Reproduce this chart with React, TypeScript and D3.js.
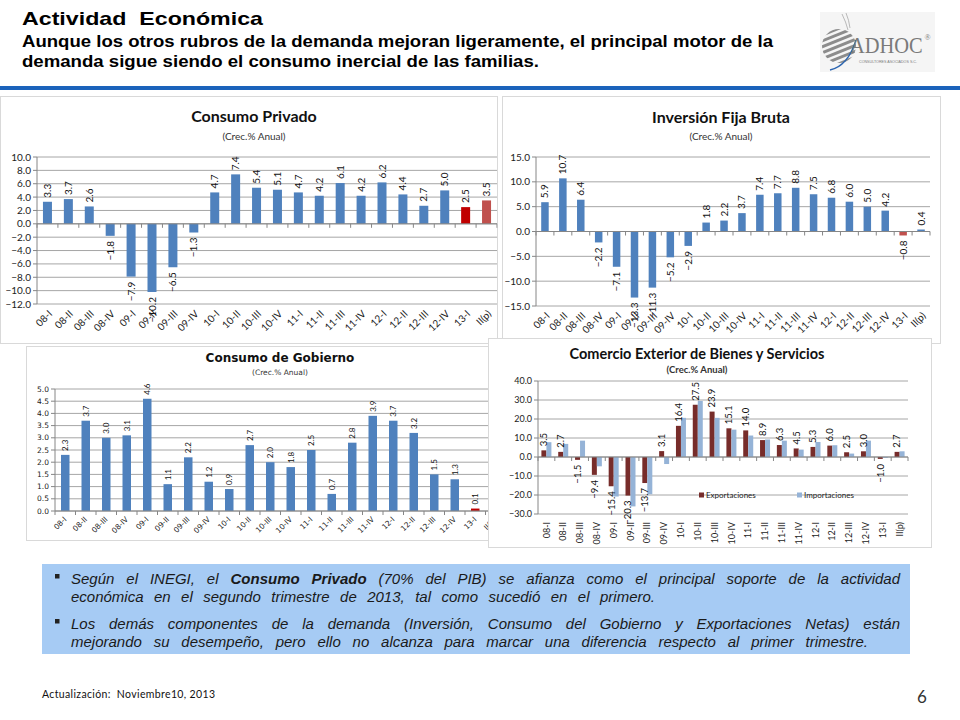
import * as React from "react";
import { useLayoutEffect, useRef, useState } from "react";
import * as d3 from "d3";

// quarters shared by the four charts
const quarters = [
  "08-I", "08-II", "08-III", "08-IV", "09-I", "09-II", "09-III", "09-IV",
  "10-I", "10-II", "10-III", "10-IV", "11-I", "11-II", "11-III", "11-IV",
  "12-I", "12-II", "12-III", "12-IV", "13-I", "II(p)",
];

const consumoPrivado = [3.3, 3.7, 2.6, -1.8, -7.9, -10.2, -6.5, -1.3, 4.7, 7.4, 5.4, 5.1, 4.7, 4.2, 6.1, 4.2, 6.2, 4.4, 2.7, 5.0, 2.5, 3.5];
const inversionFija = [5.9, 10.7, 6.4, -2.2, -7.1, -13.3, -11.3, -5.2, -2.9, 1.8, 2.2, 3.7, 7.4, 7.7, 8.8, 7.5, 6.8, 6.0, 5.0, 4.2, -0.8, 0.4];
const consumoGobierno: (number | null)[] = [2.3, 3.7, 3.0, 3.1, 4.6, 1.1, 2.2, 1.2, 0.9, 2.7, 2.0, 1.8, 2.5, 0.7, 2.8, 3.9, 3.7, 3.2, 1.5, 1.3, 0.1, null];
const exportaciones = [3.5, 2.7, -1.5, -9.4, -15.4, -20.3, -13.7, 3.1, 16.4, 27.5, 23.9, 15.1, 14.0, 8.9, 6.3, 4.5, 5.3, 6.0, 2.5, 3.0, -1.0, 2.7];
const importaciones = [7.8, 6.9, 8.6, -4.9, -20.8, -26.0, -19.6, -3.7, 20.6, 29.5, 20.6, 14.4, 11.3, 9.2, 8.6, 3.9, 7.9, 6.2, 1.8, 8.6, -0.5, 3.0];

const CAL = "Lato, 'Open Sans', sans-serif";
const ARIAL = "'Liberation Sans', Arial, sans-serif";
const VERD = "'DejaVu Sans', Verdana, sans-serif";
const BLUE = "#4f81bd";

const fmt = d3.format(".1f");

interface Series {
  values: (number | null)[];
  color: string;
  highlight?: Record<number, string>;
  labels?: boolean;
}

interface ChartProps {
  id: string;
  box: [number, number, number, number];
  plot: { left: number; right: number; top: number; bottom: number };
  domain: [number, number];
  step: number;
  title: string;
  titleFont: string;
  titleSize: number;
  titleX: number;
  titleY: number;
  subtitleSize: number;
  subtitleY: number;
  subtitleBold?: boolean;
  series: Series[];
  barWidth: number;
  tickFont: string;
  tickSize: number;
  labelSize: number;
  catSize: number;
  catRotate: number;
  catOffset: [number, number];
}

function BarChart(p: ChartProps) {
  const { box, plot } = p;
  const x = d3.scaleBand<string>().domain(quarters).range([plot.left, plot.right]);
  const y = d3.scaleLinear().domain(p.domain).range([plot.bottom, plot.top]);
  const ticks = d3.range(p.domain[0], p.domain[1] + p.step / 2, p.step);
  const y0 = y(0);
  const groupW = p.barWidth * p.series.length;
  const clipId = `clip-${p.id}`;
  const bw = x.bandwidth();

  return (
    <g>
      <defs>
        <clipPath id={clipId}>
          <rect x={box[0]} y={box[1]} width={box[2]} height={box[3]} />
        </clipPath>
      </defs>
      <rect x={box[0]} y={box[1]} width={box[2]} height={box[3]} fill="#fff" stroke="#d9d9d9" />
      <g clipPath={`url(#${clipId})`}>
        {/* gridlines + y axis */}
        {ticks.map((t) => (
          <g key={t}>
            <line x1={plot.left} x2={plot.right} y1={y(t)} y2={y(t)} stroke="#a6a6a6" strokeWidth={1} />
            <line x1={plot.left - 4} x2={plot.left} y1={y(t)} y2={y(t)} stroke="#868686" />
            <text x={plot.left - 6} y={y(t)} dy="0.35em" textAnchor="end"
              fontFamily={p.tickFont} fontSize={p.tickSize} fill="#222">{fmt(t)}</text>
          </g>
        ))}
        <line x1={plot.left} x2={plot.left} y1={plot.top} y2={plot.bottom} stroke="#868686" />

        {/* bars */}
        {p.series.map((s, k) =>
          s.values.map((v, i) => {
            if (v === null) return null;
            const cx = x(quarters[i])! + bw / 2;
            const bx = cx - groupW / 2 + k * p.barWidth;
            const color = s.highlight && s.highlight[i] ? s.highlight[i] : s.color;
            return (
              <rect key={`${k}-${i}`} x={bx} y={Math.min(y(v), y0)} width={p.barWidth}
                height={Math.abs(y(v) - y0)} fill={color} />
            );
          })
        )}

        {/* zero axis with category ticks */}
        <line x1={plot.left} x2={plot.right} y1={y0} y2={y0} stroke="#868686" />
        {d3.range(quarters.length + 1).map((i) => {
          const tx = plot.left + i * bw;
          return <line key={i} x1={tx} x2={tx} y1={y0} y2={y0 + 4} stroke="#868686" />;
        })}

        {/* value labels */}
        {p.series.map((s, k) =>
          s.labels
            ? s.values.map((v, i) => {
                if (v === null) return null;
                const cx = x(quarters[i])! + bw / 2 - groupW / 2 + (k + 0.5) * p.barWidth;
                const pos = v >= 0;
                const ty = pos ? y(v) - 4 : y(v) + 5;
                return (
                  <text key={`l${k}-${i}`} transform={`translate(${cx},${ty}) rotate(-90)`}
                    textAnchor={pos ? "start" : "end"} dy="0.35em"
                    fontFamily={CAL} fontSize={p.labelSize} fill="#111">{fmt(v)}</text>
                );
              })
            : null
        )}

        {/* category labels */}
        {quarters.map((c) => {
          const cx = x(c)! + bw / 2 + p.catOffset[0];
          const cy = plot.bottom + p.catOffset[1];
          return (
            <text key={c} transform={`translate(${cx},${cy}) rotate(${p.catRotate})`}
              textAnchor="end" dy="0.35em" fontFamily={p.tickFont} fontSize={p.catSize} fill="#222">{c}</text>
          );
        })}

        <text x={p.titleX} y={p.titleY} textAnchor="middle" fontFamily={p.titleFont}
          fontWeight="bold" fontSize={p.titleSize} fill="#111">{p.title}</text>
        <text x={p.titleX} y={p.subtitleY} textAnchor="middle" fontFamily={p.titleFont}
          fontWeight={p.subtitleBold ? "bold" : "normal"} fontSize={p.subtitleSize} fill="#333">(Crec.% Anual)</text>
      </g>
    </g>
  );
}

// a text line stretched to a width by widening the gaps between words
function JustifiedLine({ x, y, width, children }: { x: number; y: number; width: number; children: React.ReactNode }) {
  const ref = useRef<SVGTextElement>(null);
  const [ws, setWs] = useState(0);
  useLayoutEffect(() => {
    const el = ref.current;
    if (!el) return;
    const natural = el.getComputedTextLength();
    const spaces = (el.textContent || "").trim().split(/\s+/).length - 1;
    if (spaces > 0) setWs(Math.max(0, (width - natural) / spaces));
  }, [width]);
  return (
    <text ref={ref} x={x} y={y} style={{ wordSpacing: `${ws}px` }}>{children}</text>
  );
}

function Logo() {
  const stripes = d3.range(7);
  return (
    <g>
      <rect x={820} y={12} width={115} height={60} fill="#f5f5f5" />
      <defs>
        <clipPath id="sphere">
          <circle cx={839} cy={46} r={17} />
        </clipPath>
      </defs>
      <g clipPath="url(#sphere)">
        {stripes.map((i) => (
          <rect key={i} x={815} y={28 + i * 5.5} width={50} height={3} fill="#8c8c8c"
            transform={`rotate(-22 839 46)`} />
        ))}
      </g>
      <path d="M842,14 Q846,22 848,30 M846,13 Q849,20 850,28" stroke="#aaa" strokeWidth={0.8} fill="none" />
      <path d="M830,70 Q848,66 856,40" stroke="#2a64b0" strokeWidth={1.3} fill="none" />
      <text transform="translate(850,53) scale(0.89,1)" fontFamily="'Liberation Serif', serif" fontSize={23} fill="#7a7a7a">
        ADHOC<tspan fontSize={9} dy={-13} dx={2}>®</tspan>
      </text>
      <text x={859} y={63} fontFamily={ARIAL} fontSize={4.2} fill="#7a7a7a"
        textLength={58} lengthAdjust="spacingAndGlyphs">CONSULTORES ASOCIADOS S.C.</text>
    </g>
  );
}

export default function App() {
  return (
    <div style={{ position: "absolute", left: 0, top: 0, width: 960, height: 720, background: "#fff" }}>
      <svg width={960} height={720} style={{ display: "block" }}>
        <rect width={960} height={720} fill="#fff" />

        {/* header */}
        <text x={22} y={25} fontFamily={ARIAL} fontWeight="bold" fontSize={18.5} fill="#000"
          textLength={241} lengthAdjust="spacingAndGlyphs">Actividad{"\u00a0\u00a0"}Económica</text>
        <text x={22} y={47} fontFamily={ARIAL} fontWeight="bold" fontSize={16.5} fill="#000"
          textLength={751} lengthAdjust="spacingAndGlyphs">Aunque los otros rubros de la demanda mejoran ligeramente, el principal motor de la</text>
        <text x={22} y={67} fontFamily={ARIAL} fontWeight="bold" fontSize={16.5} fill="#000"
          textLength={517} lengthAdjust="spacingAndGlyphs">demanda sigue siendo el consumo inercial de las familias.</text>
        <Logo />
        <rect x={0} y={86} width={960} height={4} fill="#1b63bb" />

        <BarChart id="cp" box={[0.5, 96.5, 497, 247]}
          plot={{ left: 37, right: 497, top: 157, bottom: 304 }}
          domain={[-12, 10]} step={2}
          title="Consumo Privado" titleFont={CAL} titleSize={16} titleX={254} titleY={122}
          subtitleSize={10} subtitleY={140}
          series={[{ values: consumoPrivado, color: BLUE, highlight: { 20: "#c00000", 21: "#c0504d" }, labels: true }]}
          barWidth={9} tickFont={CAL} tickSize={10} labelSize={10} catSize={10}
          catRotate={-45} catOffset={[3, 8]} />

        <BarChart id="ifb" box={[502.5, 96.5, 438, 247]}
          plot={{ left: 536, right: 930, top: 157, bottom: 306 }}
          domain={[-15, 15]} step={5}
          title="Inversión Fija Bruta" titleFont={CAL} titleSize={16} titleX={721} titleY={123}
          subtitleSize={10} subtitleY={140}
          series={[{ values: inversionFija, color: BLUE, highlight: { 20: "#c0504d" }, labels: true }]}
          barWidth={7.5} tickFont={CAL} tickSize={10} labelSize={10} catSize={10}
          catRotate={-45} catOffset={[3, 8]} />

        <BarChart id="cg" box={[26.5, 346.5, 463, 194]}
          plot={{ left: 55, right: 506, top: 389, bottom: 511 }}
          domain={[0, 5]} step={0.5}
          title="Consumo de Gobierno" titleFont={VERD} titleSize={12} titleX={280} titleY={362}
          subtitleSize={7.5} subtitleY={375}
          series={[{ values: consumoGobierno, color: BLUE, highlight: { 20: "#c00000" }, labels: true }]}
          barWidth={8.5} tickFont={VERD} tickSize={7.5} labelSize={8} catSize={7.5}
          catRotate={-45} catOffset={[0, 7]} />

        <BarChart id="ce" box={[488.5, 338.5, 443, 209]}
          plot={{ left: 538, right: 908, top: 381, bottom: 514 }}
          domain={[-30, 40]} step={10}
          title="Comercio Exterior de Bienes y Servicios" titleFont={CAL} titleSize={14.5} titleX={697} titleY={359}
          subtitleSize={9.5} subtitleY={373} subtitleBold
          series={[
            { values: exportaciones, color: "#772c2a", labels: true },
            { values: importaciones, color: "#95b3d7" },
          ]}
          barWidth={5} tickFont={CAL} tickSize={9} labelSize={9.5} catSize={9}
          catRotate={-90} catOffset={[0, 8]} />

        {/* comercio legend */}
        <rect x={699} y={492.5} width={5} height={5} fill="#772c2a" />
        <text x={706} y={498} fontFamily={CAL} fontSize={8} fill="#222">Exportaciones</text>
        <rect x={797} y={492.5} width={5} height={5} fill="#95b3d7" />
        <text x={804} y={498} fontFamily={CAL} fontSize={8} fill="#222">Importaciones</text>

        {/* commentary box */}
        <rect x={42} y={564} width={868} height={90} fill="#a6cbf4" />
        <rect x={55} y={574} width={4.5} height={4.5} fill="#222" />
        <rect x={55} y={619} width={4.5} height={4.5} fill="#222" />
        <g fontFamily={ARIAL} fontStyle="italic" fontSize={15} fill="#1a1a1a">
          <JustifiedLine x={71} y={584} width={829}>
            Según el INEGI, el <tspan fontWeight="bold">Consumo Privado</tspan> (70% del PIB) se afianza como el principal soporte de la actividad
          </JustifiedLine>
          <JustifiedLine x={71} y={602} width={584}>
            económica en el segundo trimestre de 2013, tal como sucedió en el primero.
          </JustifiedLine>
          <JustifiedLine x={71} y={629} width={829}>
            Los demás componentes de la demanda (Inversión, Consumo del Gobierno y Exportaciones Netas) están
          </JustifiedLine>
          <JustifiedLine x={71} y={647} width={797}>
            mejorando su desempeño, pero ello no alcanza para marcar una diferencia respecto al primer trimestre.
          </JustifiedLine>
        </g>

        {/* footer */}
        <text x={42} y={698} fontFamily={CAL} fontSize={10.5} fill="#111"
          textLength={173} lengthAdjust="spacing">Actualización:{"\u00a0\u00a0"}Noviembre10, 2013</text>
        <text x={917} y={703} fontFamily={CAL} fontSize={17} fill="#333">6</text>
      </svg>
    </div>
  );
}
